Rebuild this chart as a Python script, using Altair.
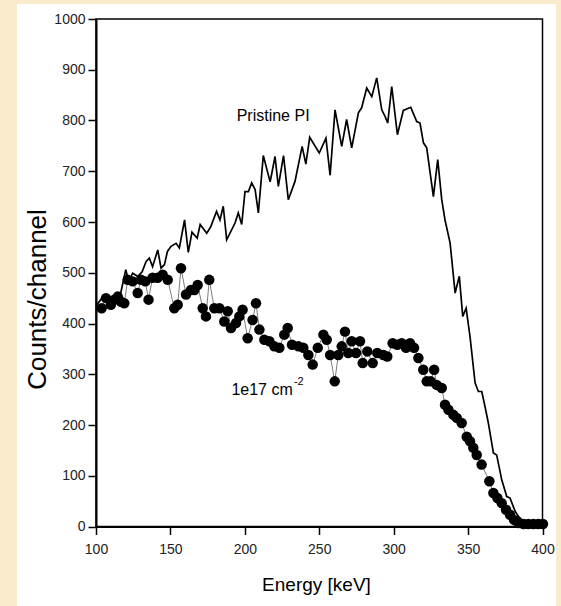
import altair as alt
import pandas as pd

# Pristine PI spectrum (energy in keV, counts per channel)
pristine_energy = [100, 104, 108, 112, 116, 120, 122, 124.6, 128, 131, 133.6, 135.8, 138, 141.5,
                   143.7, 146, 148, 150.4, 153.8, 156, 159.5, 162, 164.5, 168, 170, 174.4, 177,
                   181, 183.3, 185.5, 187.8, 193.4, 195.6, 197.9, 200.1, 202.4, 204.6, 206.9,
                   209.1, 212.4, 217, 220.3, 222.5, 226, 229.2, 233.7, 238.5, 241, 243.6, 250,
                   254.5, 257.3, 260.6, 265.1, 268.4, 271.8, 276.3, 278.5, 281.9, 285.3, 288.6,
                   292, 294.2, 296, 298.7, 302.5, 306.5, 311.5, 315.5, 317.7, 320, 322.2, 326.7,
                   329.6, 332.3, 334.5, 337.9, 341.3, 344.1, 346.4, 348.7, 351.3, 354.7, 356.9,
                   359.2, 361.4, 363.6, 367, 369.2, 372.6, 376, 378.2, 381.6, 383.8, 387.2, 390,
                   394, 398, 400]
pristine_counts = [435, 450, 445, 455, 452, 506, 483, 499, 493, 502, 522, 529, 512, 545,
                   509, 516, 542, 552, 558, 549, 604, 540, 580, 568, 595, 578, 590,
                   621, 604, 631, 565, 598, 618, 595, 660, 660, 677, 664,
                   618, 731, 679, 729, 670, 731, 644, 680, 749, 714, 767, 736,
                   765, 692, 821, 749, 802, 746, 815, 825, 864, 847, 884,
                   821, 808, 795, 867, 772, 820, 826, 798, 795, 756, 746, 650,
                   723, 644, 604, 559, 460, 493, 414, 430, 374, 283, 266,
                   266, 236, 204, 145, 141, 92, 59, 56, 30, 20, 10, 6,
                   5, 5, 5]

# Irradiated sample, fluence 1e17 cm^-2
dose_energy = [103.8, 106.7, 110, 112.3, 114.6, 116.8, 119, 121.3, 124.6, 128, 130.2, 133.1,
               135.3, 138, 141.4, 144.8, 148.2, 152.6, 154.9, 157.1, 160.5, 163.8, 166.1, 168.3,
               171.7, 173.9, 176.1, 179.5, 182.9, 186.2, 188.5, 190.7, 194.1, 196.3, 198.5,
               201.9, 205.2, 207.5, 209.8, 213.1, 216.5, 219.8, 223.2, 226.5, 228.8, 231.7,
               236, 239.3, 242.7, 245.6, 249, 252.8, 255, 257.3, 260.4, 262.8, 265.1, 267.3,
               269.5, 271.8, 274.7, 277.4, 279.2, 282.3, 285.9, 289, 293.1, 295.7, 299.3,
               302.4, 305.4, 308.3, 311, 313.7, 316.6, 319.9, 322.2, 324.9, 327.2, 328.9,
               332.3, 334.5, 336.8, 340.1, 342.4, 345.7, 349.1, 351.3, 353.5, 355.8, 359.1,
               364.3, 367, 369.7, 372.6, 375.5, 378.2, 380.9, 383.8, 387.2, 390.5, 393.9,
               397.2, 400.3]
dose_counts = [430, 450, 437, 447, 453, 443, 440, 486, 483, 460, 486, 483,
               447, 490, 490, 496, 486, 430, 437, 509, 457, 466, 466, 476,
               430, 414, 486, 430, 430, 404, 424, 391, 401, 414, 427,
               371, 407, 440, 388, 368, 365, 355, 352, 378, 391, 358,
               355, 352, 338, 319, 352, 378, 368, 338, 286, 338, 355, 384,
               342, 365, 342, 365, 322, 345, 322, 342, 338, 335, 361,
               358, 361, 352, 361, 352, 332, 309, 286, 286, 309, 279,
               273, 240, 230, 220, 214, 204, 177, 168, 155, 141, 122,
               89, 66, 56, 46, 33, 23, 13, 7, 5, 5, 5,
               5, 5]

x_ticks = list(range(100, 401, 25))
y_ticks = list(range(0, 1001, 50))

FONT = "Liberation Sans, Arial, sans-serif"

pristine = pd.DataFrame({"energy": pristine_energy, "counts": pristine_counts})
dose = pd.DataFrame({"energy": dose_energy, "counts": dose_counts})

x_scale = alt.Scale(domain=[100, 400], nice=False, zero=False)
y_scale = alt.Scale(domain=[0, 1000], nice=False)

# major ticks carry labels, minor ticks in between are shorter
x_axis = alt.Axis(
    title="Energy [keV]", values=x_ticks, format="d", labelFlush=False,
    labelExpr="datum.value % 50 == 0 ? datum.label : ''",
    tickSize={"condition": {"test": "datum.value % 50 == 0", "value": 8}, "value": 4},
    labelPadding=8, titleX=220, titleY=58, titleBaseline="middle", titleFontSize=19,
)
y_axis = alt.Axis(
    title="Counts/channel", values=y_ticks, format="d", labelFlush=False,
    labelExpr="datum.value % 100 == 0 ? datum.label : ''",
    tickSize={"condition": {"test": "datum.value % 100 == 0", "value": 8}, "value": 4},
    labelPadding=3, titleX=-59, titleY=280, titleBaseline="middle", titleAngle=270,
    titleFontSize=26,
)

# beige border strips around the white page
border = pd.DataFrame({
    "x0": [-96, -96, 460], "x1": [-79, 465, 465],
    "y0": [-19, -19, -19], "y1": [587, -15, 587],
})
strips = alt.Chart(border).mark_rect(color="#F9EBCB").encode(
    x=alt.X("x0:Q", scale=None), x2="x1:Q",
    y=alt.Y("y0:Q", scale=None), y2="y1:Q",
)

pristine_line = alt.Chart(pristine).mark_line(color="black", strokeWidth=1.7).encode(
    x=alt.X("energy:Q", scale=x_scale, axis=x_axis),
    y=alt.Y("counts:Q", scale=y_scale, axis=y_axis),
)

dose_line = alt.Chart(dose).mark_line(color="#444", strokeWidth=0.7).encode(
    x=alt.X("energy:Q", scale=x_scale),
    y=alt.Y("counts:Q", scale=y_scale),
)
dose_points = alt.Chart(dose).mark_circle(color="black", opacity=1, size=110).encode(
    x=alt.X("energy:Q", scale=x_scale),
    y=alt.Y("counts:Q", scale=y_scale),
)

labels = pd.DataFrame({
    "energy": [219, 211.6], "counts": [809, 269], "text": ["Pristine PI", "1e17 cm"],
})
label_text = alt.Chart(labels).mark_text(font=FONT, fontSize=16, color="black").encode(
    x=alt.X("energy:Q", scale=x_scale), y=alt.Y("counts:Q", scale=y_scale), text="text:N"
)
sup = pd.DataFrame({"energy": [233], "counts": [285], "text": ["-2"]})
sup_text = alt.Chart(sup).mark_text(font=FONT, fontSize=11, color="black", align="left").encode(
    x=alt.X("energy:Q", scale=x_scale), y=alt.Y("counts:Q", scale=y_scale), text="text:N"
)

chart = alt.layer(pristine_line, dose_line, dose_points, label_text, sup_text, strips).properties(
    width=446.5, height=507.5,
    autosize=alt.AutoSizeParams(type="none"),
    padding={"left": 96, "top": 19, "right": 18.5, "bottom": 79.5},
    background="white",
).configure_view(
    stroke="black", strokeWidth=1.5
).configure_axis(
    grid=False, domainColor="black", domainWidth=2, tickColor="black", tickWidth=1.5,
    labelFont=FONT, labelFontSize=14, labelColor="#222",
    titleFont=FONT, titleFontWeight="normal", titleColor="black",
)

chart.save("out.html", embed_options={"renderer": "svg", "actions": False})
